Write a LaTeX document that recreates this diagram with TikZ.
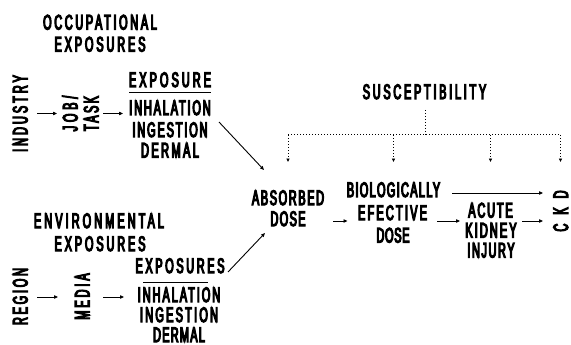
\documentclass[tikz,border=0pt]{standalone}
\usepackage{fontspec}
\newfontfamily\cf{Liberation Sans}[FakeStretch=0.52,FakeBold=5.5]
\usetikzlibrary{arrows.meta,calc}
\tikzset{
  lbl/.style={font={\cf\fontsize{21}{23}\selectfont\addfontfeature{LetterSpace=#1}},inner sep=0pt,outer sep=0pt,text height=15pt,text depth=0pt,anchor=center},
  lbl/.default=12,
  rlbl/.style={lbl=#1,rotate=90},
  rlbl/.default=12,
  arr/.style={line width=0.9pt,-{Triangle[length=4pt,width=3.4pt]}},
  dotline/.style={line width=1pt,dotted},
  dotarr/.style={line width=1pt,dotted,-{Triangle[length=3.5pt,width=3.2pt]}},
  rulebar/.style={line width=0.9pt}
}
\begin{document}
\begin{tikzpicture}[x=1pt,y=-1pt]
\useasboundingbox (0,0) rectangle (571,345);
% occupational
\node[lbl=12.6] (occ1) at (100,22) {OCCUPATIONAL};
\node[lbl=13.7] (occ2) at (100,44) {EXPOSURES};
\node[rlbl=14.4] (industry) at (20,113.5) {INDUSTRY};
\node[rlbl=18] (job) at (70,113.5) {JOB/};
\node[rlbl=11.6] (task) at (91,113.5) {TASK};
\node[lbl=14.5] (exp1) at (170,79.5) {EXPOSURE};
\node[lbl=8.8] (inh1) at (170,107.5) {INHALATION};
\node[lbl=8.9] (ing1) at (170,129.5) {INGESTION};
\node[lbl=11.7] (der1) at (170,150) {DERMAL};
\draw[rulebar] ([shift={(-41,12.5)}]exp1.center) -- ([shift={(41,12.5)}]exp1.center);
% environmental
\node[lbl=14.6] (env1) at (99,220.5) {ENVIRONMENTAL};
\node[lbl=13.7] (env2) at (100,243.5) {EXPOSURES};
\node[rlbl=13.2] (region) at (20,296.5) {REGION};
\node[rlbl=14] (media) at (82,296.5) {MEDIA};
\node[lbl=12.5] (exp2) at (180,265.5) {EXPOSURES};
\node[lbl=9.4] (inh2) at (179,294.5) {INHALATION};
\node[lbl=10.7] (ing2) at (179,314.5) {INGESTION};
\node[lbl=6] (der2) at (179,334.5) {DERMAL};
\draw[rulebar] ([shift={(-37,16.5)}]exp2.center) -- ([shift={(28,16.5)}]exp2.center);
% right part
\node[lbl=7.8] (abs1) at (288,197.5) {ABSORBED};
\node[lbl=6.5] (abs2) at (288,218.5) {DOSE};
\node[lbl=6.3] (bio1) at (393.5,189.5) {BIOLOGICALLY};
\node[lbl=10.6] (bio2) at (392.5,212.5) {EFECTIVE};
\node[lbl=3.3] (bio3) at (393,235) {DOSE};
\node[lbl=8.8] (acute) at (490.5,210) {ACUTE};
\node[lbl=10] (kidney) at (491,230) {KIDNEY};
\node[lbl=7.6] (injury) at (491,250) {INJURY};
\node[rlbl=0] (ckd) at (560.5,211) {C\hspace{9pt}K\hspace{9pt}D};
\node[lbl=13] (susc) at (424.5,91.5) {SUSCEPTIBILITY};
% arrows left
\draw[arr] ([shift={(17,0)}]industry.center) -- ([shift={(-13,0)}]job.center);
\draw[arr] ([shift={(12,0)}]task.center) -- ([shift={(-47,6)}]inh1.center);
\draw[arr] ([shift={(17,0.5)}]region.center) -- ([shift={(-24,0.5)}]media.center);
\draw[arr] ([shift={(21,0.5)}]media.center) -- ([shift={(-55,2.5)}]inh2.center);
\draw[arr] ([shift={(49,-7.5)}]ing1.center) -- ([shift={(-24,-27.5)}]abs1.center);
\draw[arr] ([shift={(48,6.5)}]exp2.center) -- ([shift={(-23,14.5)}]abs2.center);
% arrows right
\draw[arr] ([shift={(45,2.5)}]abs2.center) -- ([shift={(-45,8.5)}]bio2.center);
\draw[arr] ([shift={(44.5,8.5)}]bio2.center) -- ([shift={(-30.5,11)}]acute.center);
\draw[arr] ([shift={(58.5,3.5)}]bio1.center) -- ([shift={(-17.5,-18)}]ckd.center);
\draw[arr] ([shift={(31.5,11)}]acute.center) -- ([shift={(-17.5,10)}]ckd.center);
% susceptibility
\coordinate (bar) at ([shift={(0.5,43.5)}]susc.center);
\coordinate (tips) at ([shift={(0,70.5)}]susc.center);
\draw[dotline] ([shift={(0.5,18.5)}]susc.center) -- (bar);
\draw[dotline] (abs1 |- bar) -- (ckd |- bar);
\draw[dotarr] (abs1 |- bar) -- (abs1 |- tips);
\draw[dotarr] (bio1 |- bar) -- (bio1 |- tips);
\draw[dotarr] (acute |- bar) -- (acute |- tips);
\draw[dotarr] (ckd |- bar) -- (ckd |- tips);
\end{tikzpicture}
\end{document}
